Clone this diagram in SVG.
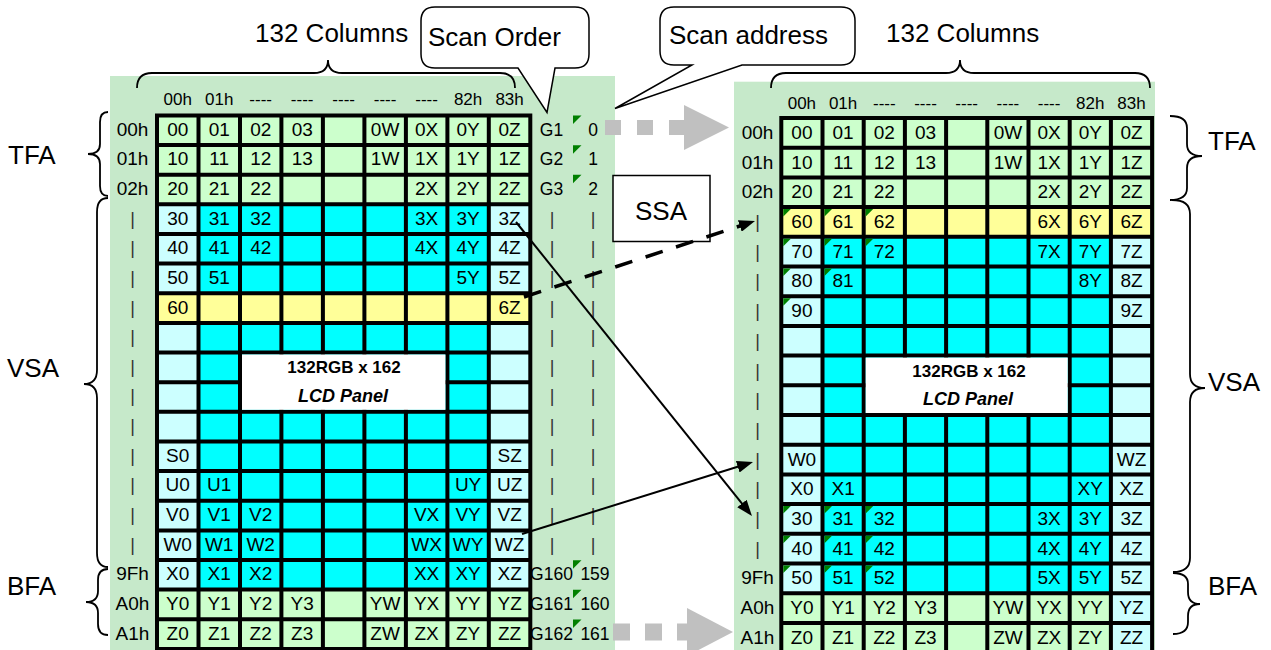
<svg xmlns="http://www.w3.org/2000/svg" width="1271" height="650" viewBox="0 0 1271 650">
<defs>
<style>
text{font-family:"Liberation Sans",Arial,sans-serif;fill:#000}
.c{font-size:19px;text-anchor:middle}
.h{font-size:17px;text-anchor:middle}
.g{font-size:17.5px;text-anchor:middle}
.big{font-size:26px}
.bar{font-size:18px;text-anchor:middle;fill:#333}
.grid{fill:none;stroke:#000;stroke-width:4;stroke-linecap:square}
.brace{fill:none;stroke:#000;stroke-width:1.8}
.callout{fill:#fff;stroke:#000;stroke-width:1.5}
.pt{font-size:17px;font-weight:bold;text-anchor:middle}
.pi{font-size:18px;font-weight:bold;font-style:italic;text-anchor:middle}
.bg{fill:#C6E9CA}
.lg{fill:#CCFFCC}
.lc{fill:#CCFFFF}
.cy{fill:#00FFFF}
.ye{fill:#FFFF99}
.gray{fill:none;stroke:#C0C0C0}
.arr{fill:none;stroke:#000}
</style>
<path id="tri" d="M0 0h7.5L0 7.5z" fill="#008000"/>
<path id="tri2" d="M0 0h8.5L0 8.5z" fill="#008000"/>
<marker id="ah" viewBox="0 0 16 12" refX="10" refY="6" markerWidth="16" markerHeight="12" markerUnits="userSpaceOnUse" orient="auto"><path d="M0 0L16 6L0 12z" fill="#000"/></marker>
</defs>
<rect x="0" y="0" width="1271" height="650" fill="#fff"/>

<g id="left-panel">
<rect class="bg" x="110" y="76" width="505" height="574"/>
<rect class="lg" x="157" y="115.4" width="373.3" height="88.9"/>
<rect class="lc" x="157" y="204.3" width="373.3" height="385.3"/>
<rect class="cy" x="198.5" y="204.3" width="290.3" height="385.3"/>
<rect class="ye" x="157" y="293.2" width="373.3" height="29.7"/>
<rect class="lg" x="157" y="589.6" width="373.3" height="59.3"/>
<path class="grid" d="M157 115.4V648.9M198.5 115.4V648.9M240 115.4V648.9M281.4 115.4V648.9M322.9 115.4V648.9M364.4 115.4V648.9M405.9 115.4V648.9M447.4 115.4V648.9M488.8 115.4V648.9M530.3 115.4V648.9
M157 115.4H530.3M157 145H530.3M157 174.7H530.3M157 204.3H530.3M157 234H530.3M157 263.6H530.3M157 293.2H530.3M157 322.9H530.3M157 352.5H530.3M157 382.2H530.3M157 411.8H530.3M157 441.4H530.3M157 471.1H530.3M157 500.7H530.3M157 530.4H530.3M157 560H530.3M157 589.6H530.3M157 619.3H530.3M157 648.9H530.3"/>
<rect x="242" y="354.5" width="203.4" height="55.3" fill="#fff"/>
<text class="pt" x="344" y="373">132RGB x 162</text>
<text class="pi" x="343" y="401.5">LCD Panel</text>
<text class="h" y="105"><tspan x="177.7">00h</tspan><tspan x="219.2">01h</tspan><tspan x="260.7">----</tspan><tspan x="302.2">----</tspan><tspan x="343.7">----</tspan><tspan x="385.1">----</tspan><tspan x="426.6">----</tspan><tspan x="468.1">82h</tspan><tspan x="509.6">83h</tspan></text>
<text class="c"><tspan x="132.5" y="135.7">00h</tspan><tspan x="132.5" y="165.4">01h</tspan><tspan x="132.5" y="195">02h</tspan><tspan x="132.5" y="580.3">9Fh</tspan><tspan x="132.5" y="609.9">A0h</tspan><tspan x="132.5" y="639.6">A1h</tspan></text>
<text class="bar"><tspan x="132.5" y="224.6">|</tspan><tspan x="132.5" y="254.3">|</tspan><tspan x="132.5" y="283.9">|</tspan><tspan x="132.5" y="313.5">|</tspan><tspan x="132.5" y="343.2">|</tspan><tspan x="132.5" y="372.8">|</tspan><tspan x="132.5" y="402.4">|</tspan><tspan x="132.5" y="432.1">|</tspan><tspan x="132.5" y="461.7">|</tspan><tspan x="132.5" y="491.4">|</tspan><tspan x="132.5" y="521">|</tspan><tspan x="132.5" y="550.7">|</tspan></text>
<text class="bar"><tspan x="552" y="224.6">|</tspan><tspan x="552" y="254.3">|</tspan><tspan x="552" y="283.9">|</tspan><tspan x="552" y="313.5">|</tspan><tspan x="552" y="343.2">|</tspan><tspan x="552" y="372.8">|</tspan><tspan x="552" y="402.4">|</tspan><tspan x="552" y="432.1">|</tspan><tspan x="552" y="461.7">|</tspan><tspan x="552" y="491.4">|</tspan><tspan x="552" y="521">|</tspan><tspan x="552" y="550.7">|</tspan></text>
<text class="bar"><tspan x="593" y="224.6">|</tspan><tspan x="593" y="254.3">|</tspan><tspan x="593" y="283.9">|</tspan><tspan x="593" y="313.5">|</tspan><tspan x="593" y="343.2">|</tspan><tspan x="593" y="372.8">|</tspan><tspan x="593" y="402.4">|</tspan><tspan x="593" y="432.1">|</tspan><tspan x="593" y="461.7">|</tspan><tspan x="593" y="491.4">|</tspan><tspan x="593" y="521">|</tspan><tspan x="593" y="550.7">|</tspan></text>
<text class="g"><tspan x="551.5" y="135.7">G1</tspan><tspan x="551.5" y="165.4">G2</tspan><tspan x="551.5" y="195">G3</tspan><tspan x="551.5" y="580.3">G160</tspan><tspan x="551.5" y="609.9">G161</tspan><tspan x="551.5" y="639.6">G162</tspan></text>
<text class="g"><tspan x="593" y="135.7">0</tspan><tspan x="593" y="165.4">1</tspan><tspan x="593" y="195">2</tspan><tspan x="595" y="580.3">159</tspan><tspan x="595" y="609.9">160</tspan><tspan x="595" y="639.6">161</tspan></text>
<use href="#tri2" x="573" y="115.5"/><use href="#tri2" x="573" y="145.2"/><use href="#tri2" x="573" y="174.8"/><use href="#tri2" x="573" y="560.2"/><use href="#tri2" x="573" y="589.8"/><use href="#tri2" x="573" y="619.5"/>
<text class="c" y="135.7"><tspan x="177.7">00</tspan><tspan x="219.2">01</tspan><tspan x="260.7">02</tspan><tspan x="302.2">03</tspan><tspan x="385.1">0W</tspan><tspan x="426.6">0X</tspan><tspan x="468.1">0Y</tspan><tspan x="509.6">0Z</tspan></text>
<text class="c" y="165.4"><tspan x="177.7">10</tspan><tspan x="219.2">11</tspan><tspan x="260.7">12</tspan><tspan x="302.2">13</tspan><tspan x="385.1">1W</tspan><tspan x="426.6">1X</tspan><tspan x="468.1">1Y</tspan><tspan x="509.6">1Z</tspan></text>
<text class="c" y="195"><tspan x="177.7">20</tspan><tspan x="219.2">21</tspan><tspan x="260.7">22</tspan><tspan x="426.6">2X</tspan><tspan x="468.1">2Y</tspan><tspan x="509.6">2Z</tspan></text>
<text class="c" y="224.6"><tspan x="177.7">30</tspan><tspan x="219.2">31</tspan><tspan x="260.7">32</tspan><tspan x="426.6">3X</tspan><tspan x="468.1">3Y</tspan><tspan x="509.6">3Z</tspan></text>
<text class="c" y="254.3"><tspan x="177.7">40</tspan><tspan x="219.2">41</tspan><tspan x="260.7">42</tspan><tspan x="426.6">4X</tspan><tspan x="468.1">4Y</tspan><tspan x="509.6">4Z</tspan></text>
<text class="c" y="283.9"><tspan x="177.7">50</tspan><tspan x="219.2">51</tspan><tspan x="468.1">5Y</tspan><tspan x="509.6">5Z</tspan></text>
<text class="c" y="313.5"><tspan x="177.7">60</tspan><tspan x="509.6">6Z</tspan></text>
<text class="c" y="461.7"><tspan x="177.7">S0</tspan><tspan x="509.6">SZ</tspan></text>
<text class="c" y="491.4"><tspan x="177.7">U0</tspan><tspan x="219.2">U1</tspan><tspan x="468.1">UY</tspan><tspan x="509.6">UZ</tspan></text>
<text class="c" y="521"><tspan x="177.7">V0</tspan><tspan x="219.2">V1</tspan><tspan x="260.7">V2</tspan><tspan x="426.6">VX</tspan><tspan x="468.1">VY</tspan><tspan x="509.6">VZ</tspan></text>
<text class="c" y="550.7"><tspan x="177.7">W0</tspan><tspan x="219.2">W1</tspan><tspan x="260.7">W2</tspan><tspan x="426.6">WX</tspan><tspan x="468.1">WY</tspan><tspan x="509.6">WZ</tspan></text>
<text class="c" y="580.3"><tspan x="177.7">X0</tspan><tspan x="219.2">X1</tspan><tspan x="260.7">X2</tspan><tspan x="426.6">XX</tspan><tspan x="468.1">XY</tspan><tspan x="509.6">XZ</tspan></text>
<text class="c" y="609.9"><tspan x="177.7">Y0</tspan><tspan x="219.2">Y1</tspan><tspan x="260.7">Y2</tspan><tspan x="302.2">Y3</tspan><tspan x="385.1">YW</tspan><tspan x="426.6">YX</tspan><tspan x="468.1">YY</tspan><tspan x="509.6">YZ</tspan></text>
<text class="c" y="639.6"><tspan x="177.7">Z0</tspan><tspan x="219.2">Z1</tspan><tspan x="260.7">Z2</tspan><tspan x="302.2">Z3</tspan><tspan x="385.1">ZW</tspan><tspan x="426.6">ZX</tspan><tspan x="468.1">ZY</tspan><tspan x="509.6">ZZ</tspan></text>
</g>

<g id="right-panel">
<rect class="bg" x="734" y="81.7" width="421" height="568.3"/>
<rect class="lg" x="781.3" y="118" width="370.8" height="89.1"/>
<rect class="ye" x="781.3" y="207.1" width="370.8" height="29.7"/>
<rect class="lc" x="781.3" y="236.8" width="370.8" height="356.4"/>
<rect class="cy" x="822.5" y="236.8" width="288.4" height="356.4"/>
<rect class="lg" x="781.3" y="593.2" width="329.6" height="59.4"/>
<rect class="lc" x="1110.9" y="593.2" width="41.2" height="59.4"/>
<path class="grid" d="M781.3 118V652.6M822.5 118V652.6M863.7 118V652.6M904.9 118V652.6M946.1 118V652.6M987.3 118V652.6M1028.5 118V652.6M1069.7 118V652.6M1110.9 118V652.6M1152.1 118V652.6
M781.3 118H1152.1M781.3 147.7H1152.1M781.3 177.4H1152.1M781.3 207.1H1152.1M781.3 236.8H1152.1M781.3 266.5H1152.1M781.3 296.2H1152.1M781.3 325.9H1152.1M781.3 355.6H1152.1M781.3 385.3H1152.1M781.3 415H1152.1M781.3 444.7H1152.1M781.3 474.4H1152.1M781.3 504.1H1152.1M781.3 533.8H1152.1M781.3 563.5H1152.1M781.3 593.2H1152.1M781.3 622.9H1152.1"/>
<rect x="865.7" y="357.6" width="202" height="55.4" fill="#fff"/>
<text class="pt" x="969" y="377">132RGB x 162</text>
<text class="pi" x="968" y="405">LCD Panel</text>
<use href="#tri" x="783.3" y="209.1"/><use href="#tri" x="824.5" y="209.1"/><use href="#tri" x="865.7" y="209.1"/>
<use href="#tri" x="783.3" y="238.8"/><use href="#tri" x="824.5" y="238.8"/><use href="#tri" x="865.7" y="238.8"/>
<use href="#tri" x="783.3" y="268.5"/><use href="#tri" x="824.5" y="268.5"/>
<use href="#tri" x="783.3" y="298.2"/>
<use href="#tri" x="783.3" y="506.1"/><use href="#tri" x="824.5" y="506.1"/><use href="#tri" x="865.7" y="506.1"/>
<use href="#tri" x="783.3" y="535.8"/><use href="#tri" x="824.5" y="535.8"/><use href="#tri" x="865.7" y="535.8"/>
<use href="#tri" x="783.3" y="565.5"/><use href="#tri" x="824.5" y="565.5"/><use href="#tri" x="865.7" y="565.5"/>
<text class="h" y="109.3"><tspan x="801.9">00h</tspan><tspan x="843.1">01h</tspan><tspan x="884.3">----</tspan><tspan x="925.5">----</tspan><tspan x="966.7">----</tspan><tspan x="1007.9">----</tspan><tspan x="1049.1">----</tspan><tspan x="1090.3">82h</tspan><tspan x="1131.5">83h</tspan></text>
<text class="c"><tspan x="757.5" y="138.9">00h</tspan><tspan x="757.5" y="168.6">01h</tspan><tspan x="757.5" y="198.3">02h</tspan><tspan x="757.5" y="584.4">9Fh</tspan><tspan x="757.5" y="614.1">A0h</tspan><tspan x="757.5" y="643.8">A1h</tspan></text>
<text class="bar"><tspan x="757.5" y="228">|</tspan><tspan x="757.5" y="257.7">|</tspan><tspan x="757.5" y="287.4">|</tspan><tspan x="757.5" y="317.1">|</tspan><tspan x="757.5" y="346.8">|</tspan><tspan x="757.5" y="376.5">|</tspan><tspan x="757.5" y="406.2">|</tspan><tspan x="757.5" y="435.9">|</tspan><tspan x="757.5" y="465.6">|</tspan><tspan x="757.5" y="495.3">|</tspan><tspan x="757.5" y="525">|</tspan><tspan x="757.5" y="554.7">|</tspan></text>
<text class="c" y="138.9"><tspan x="801.9">00</tspan><tspan x="843.1">01</tspan><tspan x="884.3">02</tspan><tspan x="925.5">03</tspan><tspan x="1007.9">0W</tspan><tspan x="1049.1">0X</tspan><tspan x="1090.3">0Y</tspan><tspan x="1131.5">0Z</tspan></text>
<text class="c" y="168.6"><tspan x="801.9">10</tspan><tspan x="843.1">11</tspan><tspan x="884.3">12</tspan><tspan x="925.5">13</tspan><tspan x="1007.9">1W</tspan><tspan x="1049.1">1X</tspan><tspan x="1090.3">1Y</tspan><tspan x="1131.5">1Z</tspan></text>
<text class="c" y="198.3"><tspan x="801.9">20</tspan><tspan x="843.1">21</tspan><tspan x="884.3">22</tspan><tspan x="1049.1">2X</tspan><tspan x="1090.3">2Y</tspan><tspan x="1131.5">2Z</tspan></text>
<text class="c" y="228"><tspan x="801.9">60</tspan><tspan x="843.1">61</tspan><tspan x="884.3">62</tspan><tspan x="1049.1">6X</tspan><tspan x="1090.3">6Y</tspan><tspan x="1131.5">6Z</tspan></text>
<text class="c" y="257.7"><tspan x="801.9">70</tspan><tspan x="843.1">71</tspan><tspan x="884.3">72</tspan><tspan x="1049.1">7X</tspan><tspan x="1090.3">7Y</tspan><tspan x="1131.5">7Z</tspan></text>
<text class="c" y="287.4"><tspan x="801.9">80</tspan><tspan x="843.1">81</tspan><tspan x="1090.3">8Y</tspan><tspan x="1131.5">8Z</tspan></text>
<text class="c" y="317.1"><tspan x="801.9">90</tspan><tspan x="1131.5">9Z</tspan></text>
<text class="c" y="465.6"><tspan x="801.9">W0</tspan><tspan x="1131.5">WZ</tspan></text>
<text class="c" y="495.3"><tspan x="801.9">X0</tspan><tspan x="843.1">X1</tspan><tspan x="1090.3">XY</tspan><tspan x="1131.5">XZ</tspan></text>
<text class="c" y="525"><tspan x="801.9">30</tspan><tspan x="843.1">31</tspan><tspan x="884.3">32</tspan><tspan x="1049.1">3X</tspan><tspan x="1090.3">3Y</tspan><tspan x="1131.5">3Z</tspan></text>
<text class="c" y="554.7"><tspan x="801.9">40</tspan><tspan x="843.1">41</tspan><tspan x="884.3">42</tspan><tspan x="1049.1">4X</tspan><tspan x="1090.3">4Y</tspan><tspan x="1131.5">4Z</tspan></text>
<text class="c" y="584.4"><tspan x="801.9">50</tspan><tspan x="843.1">51</tspan><tspan x="884.3">52</tspan><tspan x="1049.1">5X</tspan><tspan x="1090.3">5Y</tspan><tspan x="1131.5">5Z</tspan></text>
<text class="c" y="614.1"><tspan x="801.9">Y0</tspan><tspan x="843.1">Y1</tspan><tspan x="884.3">Y2</tspan><tspan x="925.5">Y3</tspan><tspan x="1007.9">YW</tspan><tspan x="1049.1">YX</tspan><tspan x="1090.3">YY</tspan><tspan x="1131.5">YZ</tspan></text>
<text class="c" y="643.8"><tspan x="801.9">Z0</tspan><tspan x="843.1">Z1</tspan><tspan x="884.3">Z2</tspan><tspan x="925.5">Z3</tspan><tspan x="1007.9">ZW</tspan><tspan x="1049.1">ZX</tspan><tspan x="1090.3">ZY</tspan><tspan x="1131.5">ZZ</tspan></text>
</g>

<g id="braces">
<path class="brace" d="M137,88 Q137,73 152,73 H314 Q328,73 328,60 Q328,73 342,73 H500 Q515,73 515,88"/>
<path class="brace" d="M771,88 Q771,73 786,73 H946 Q960,73 960,60 Q960,73 974,73 H1135 Q1150,73 1150,88"/>
<path class="brace" d="M108,112 Q100,112 100,122 V144 Q100,154 88,154 Q100,154 100,164 V186 Q100,196 108,196"/>
<path class="brace" d="M108,198 Q97,198 97,212 V370 Q97,384 84,384 Q97,384 97,398 V553 Q97,567 108,567"/>
<path class="brace" d="M108,569 Q98,569 98,580 V591 Q98,602 86,602 Q98,602 98,613 V624 Q98,635 108,635"/>
<path class="brace" d="M1170,116 Q1187,116 1187,128 V144 Q1187,156 1202,156 Q1187,156 1187,168 V188 Q1187,200 1170,200"/>
<path class="brace" d="M1172,200 Q1190,200 1190,214 V374 Q1190,388 1205,388 Q1190,388 1190,402 V558 Q1190,572 1173,572"/>
<path class="brace" d="M1173,573 Q1188,573 1188,584 V592 Q1188,604 1200,604 Q1188,604 1188,616 V622 Q1188,634 1173,634"/>
</g>

<g id="labels">
<text class="big" x="255" y="42">132 Columns</text>
<text class="big" x="886" y="42">132 Columns</text>
<text class="big" x="8" y="163.5">TFA</text>
<text class="big" x="7" y="377">VSA</text>
<text class="big" x="7" y="595">BFA</text>
<text class="big" x="1208" y="150">TFA</text>
<text class="big" x="1208" y="391">VSA</text>
<text class="big" x="1208" y="595">BFA</text>
</g>

<g id="callout-scan-order">
<path class="callout" d="M435,7 H575 Q589,7 589,21 V54 Q589,68 575,68 H555 L547,112.5 L518,68 H435 Q421,68 421,54 V21 Q421,7 435,7 Z"/>
<text class="big" x="428" y="46">Scan Order</text>
</g>

<g id="callout-scan-address">
<path class="callout" d="M674,7 H841 Q855,7 855,21 V51 Q855,65 841,65 H742 L615,108.5 L692,65 H674 Q660,65 660,51 V21 Q660,7 674,7 Z"/>
<text class="big" x="669" y="43.5">Scan address</text>
</g>

<g id="ssa">
<rect x="613" y="175.5" width="97" height="66" fill="#fff" stroke="#000" stroke-width="1.5"/>
<text class="big" x="661" y="220" text-anchor="middle">SSA</text>
</g>

<g id="connectors">
<line class="gray" x1="605" y1="127.5" x2="686" y2="127.5" stroke-width="15" stroke-dasharray="16 16"/>
<path d="M684 105L729 127.5L684 150z" fill="#C0C0C0"/>
<line class="gray" x1="613" y1="632" x2="688" y2="632" stroke-width="17" stroke-dasharray="17 15"/>
<path d="M687 608L733 632L687 656z" fill="#C0C0C0"/>
<line class="arr" x1="524" y1="297" x2="749.3" y2="222.9" stroke-width="3.5" stroke-dasharray="18 14" marker-end="url(#ah)"/>
<line class="arr" x1="516" y1="222" x2="748.2" y2="511.3" stroke-width="2" marker-end="url(#ah)"/>
<line class="arr" x1="522" y1="534" x2="747.3" y2="463.8" stroke-width="2" marker-end="url(#ah)"/>
</g>
</svg>
